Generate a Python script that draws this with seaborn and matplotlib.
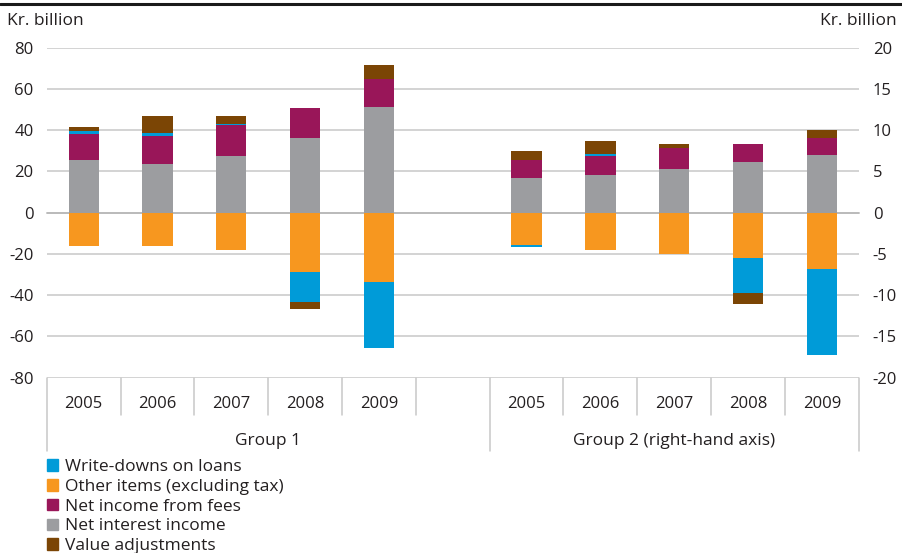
import matplotlib.pyplot as plt
import numpy as np
import pandas as pd
import seaborn as sns
from matplotlib.lines import Line2D
from matplotlib.patches import Patch

# values (Kr. billion)
years = ["2005", "2006", "2007", "2008", "2009"]

g1_interest = [25.4, 23.7, 27.6, 36.3, 51.4]
g1_fees = [12.8, 13.7, 14.7, 14.6, 13.6]
g1_other = [-16.0, -16.0, -18.1, -28.6, -33.4]
g1_writedowns = [1.3, 1.3, 0.5, -14.6, -32.1]
g1_value_adj = [1.9, 8.3, 4.2, -3.5, 6.8]

g2_interest = [4.2, 4.55, 5.28, 6.13, 6.98]
g2_fees = [2.17, 2.31, 2.58, 2.18, 2.1]
g2_other = [-3.94, -4.55, -5.04, -5.52, -6.86]
g2_writedowns = [-0.25, 0.28, 0.0, -4.25, -10.43]
g2_value_adj = [1.09, 1.54, 0.45, -1.33, 0.92]

group_labels = ["Group 1", "Group 2 (right-hand axis)"]

layer_names = ["Net interest income", "Net income from fees",
               "Other items (excluding tax)", "Write-downs on loans",
               "Value adjustments"]
legend_order = ["Write-downs on loans", "Other items (excluding tax)",
                "Net income from fees", "Net interest income",
                "Value adjustments"]
colors = {
    "Write-downs on loans": "#009BD8",
    "Other items (excluding tax)": "#F7971F",
    "Net income from fees": "#991659",
    "Net interest income": "#9C9DA0",
    "Value adjustments": "#7B4505",
}
TEXT = "#231F20"
GRID = "#C8C8C8"
FS = 12
FS_TEXT = 12.5

slots = ["1-" + y for y in years] + ["gap"] + ["2-" + y for y in years]


def stack(prefix, layers):
    pos = np.zeros(len(years))
    neg = np.zeros(len(years))
    rows = []
    for name, vals in zip(layer_names, layers):
        vals = np.asarray(vals, dtype=float)
        bottom = np.where(vals >= 0, pos, neg)
        pos = pos + np.clip(vals, 0, None)
        neg = neg + np.clip(vals, None, 0)
        for y, v, b in zip(years, vals, bottom):
            rows.append({"slot": prefix + y, "layer": name, "value": v, "bottom": b})
    return pd.DataFrame(rows)


df1 = stack("1-", [g1_interest, g1_fees, g1_other, g1_writedowns, g1_value_adj])
df2 = stack("2-", [g2_interest, g2_fees, g2_other, g2_writedowns, g2_value_adj])

sns.set_theme(style="white")
plt.rcParams["font.family"] = ["Open Sans", "DejaVu Sans"]

fig = plt.figure(figsize=(9.02, 5.53), dpi=100)
ax = fig.add_axes([0.0518, 0.317, 0.9003, 0.5967])
ax2 = ax.twinx()

for axis, df in [(ax, df1), (ax2, df2)]:
    for name in layer_names:
        sub = df[df["layer"] == name]
        sns.barplot(data=sub, x="slot", y="value", order=slots, ax=axis,
                    color=colors[name], saturation=1, width=0.41,
                    errorbar=None, linewidth=0, zorder=3,
                    bottom=sub["bottom"].to_numpy())

ax.set_xlim(-0.5, len(slots) - 0.5)
ax.set_ylim(-80, 80)
ax2.set_ylim(-20, 20)
ax.set_yticks(range(-80, 81, 20))
ax2.set_yticks(range(-20, 21, 5))
for a in (ax, ax2):
    a.set_xlabel("")
    a.set_ylabel("")
    for s in a.spines.values():
        s.set_visible(False)

ax.set_axisbelow(True)
ax.grid(axis="y", color=GRID, lw=1.1)
ax.grid(axis="x", visible=False)
ax2.grid(False)

# zero line with small upward ticks between categories
ax.spines["bottom"].set_visible(True)
ax.spines["bottom"].set_position(("data", 0))
ax.spines["bottom"].set_color("#B4B4B4")
ax.spines["bottom"].set_linewidth(1.1)
bounds = np.arange(len(slots) + 1) - 0.5
ax.set_xticks(bounds)
ax.tick_params(axis="x", direction="in", length=4, width=1.1, color="#B4B4B4",
               labelbottom=False)
ax.tick_params(axis="y", length=0, pad=9.5, labelsize=FS, labelcolor=TEXT)
ax2.tick_params(axis="y", length=0, pad=10, labelsize=FS, labelcolor=TEXT)
ax.set_yticklabels([str(v) for v in range(-80, 81, 20)])
ax2.set_yticklabels([str(v) for v in range(-20, 21, 5)])

# category table below the plot
tr = ax.get_xaxis_transform()
gap_idx = slots.index("gap")
for i, b in enumerate(bounds):
    if i in (0, gap_idx + 1, len(slots)):
        ax.plot([b, b], [0, -0.222], color=GRID, lw=1.1, transform=tr, clip_on=False)
    else:
        ax.plot([b, b], [0, -0.1145], color=GRID, lw=1.1, transform=tr, clip_on=False)
for i, s in enumerate(slots):
    if s != "gap":
        ax.text(i, -0.08, s[2:], transform=tr, ha="center", va="center",
                fontsize=FS, color=TEXT)
ax.text((bounds[0] + bounds[gap_idx + 1]) / 2, -0.193, group_labels[0],
        transform=tr, ha="center", va="center", fontsize=FS_TEXT, color=TEXT)
ax.text((bounds[gap_idx + 1] + bounds[-1]) / 2, -0.193, group_labels[1],
        transform=tr, ha="center", va="center", fontsize=FS_TEXT, color=TEXT)

fig.text(7 / 902, 1 - 21 / 553, "Kr. billion", ha="left", va="center",
         fontsize=FS_TEXT, color=TEXT)
fig.text(897 / 902, 1 - 21 / 553, "Kr. billion", ha="right", va="center",
         fontsize=FS_TEXT, color=TEXT)
fig.add_artist(Line2D([0, 1], [1 - 4 / 553, 1 - 4 / 553], color="#1A1A1A", lw=2.2))

handles = [Patch(color=colors[n], label=n) for n in legend_order]
leg = fig.legend(handles=handles, loc="upper left",
                 bbox_to_anchor=(47 / 902, 1 - 459 / 553), frameon=False,
                 fontsize=FS_TEXT, handlelength=0.66, handleheight=0.66,
                 handletextpad=0.4, labelspacing=0.22, borderpad=0,
                 borderaxespad=0)
for t in leg.get_texts():
    t.set_color(TEXT)

fig.savefig("out.png", dpi=100)
